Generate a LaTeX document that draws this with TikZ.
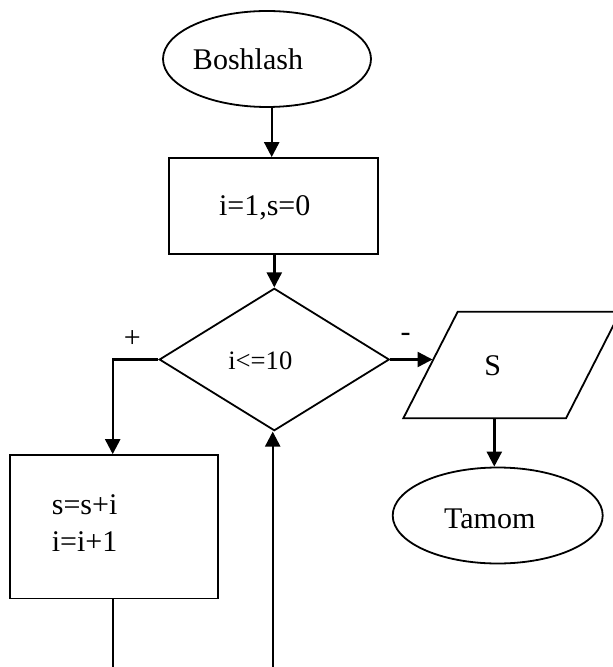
\documentclass[tikz,border=0pt]{standalone}
\usepackage{fontspec}
\setmainfont{Liberation Serif}
\usetikzlibrary{shapes.geometric,arrows.meta}
\begin{document}
\begin{tikzpicture}[x=0.5pt,y=-0.5pt,
  shapeline/.style={draw=black, line width=0.9pt},
  conn/.style={line width=1.2pt},
  arr/.style={conn, -{Triangle[length=7.5pt,width=7.5pt]}},
  txt/.style={font=\fontsize{15pt}{18.35pt}\selectfont, inner sep=0pt},
  smalltxt/.style={font=\fontsize{13.3pt}{16pt}\selectfont, inner sep=0pt},
  term/.style={shapeline, ellipse, inner sep=0pt, minimum width=104pt, minimum height=48pt},
  proc/.style={shapeline, rectangle, inner sep=0pt},
]
\useasboundingbox (0,0) rectangle (612,667);

% shapes
\node[term, label={[txt, xshift=-9.5pt]center:Boshlash}] (start) at (267,59) {};
\node[proc, minimum width=104.5pt, minimum height=48pt,
      label={[txt, xshift=-4.4pt, yshift=-1pt]center:{i=1,s=0}}] (init) at (273.5,206) {};
\node[shapeline, diamond, inner sep=0pt, minimum width=115pt, minimum height=71.2pt,
      label={[smalltxt, xshift=-7pt, yshift=-0.75pt]center:{i<=10}}] (cond) at (274.3,359.5) {};
\node[proc, minimum width=104.15pt, minimum height=71.75pt,
      label={[txt, align=left, anchor=west, xshift=21.15pt, yshift=1.9pt]west:{s=s+i\\i=i+1}}] (body) at (114.2,526.8) {};

\coordinate (pa) at (403.3,418.3);
\coordinate (pb) at (566,418.3);
\coordinate (pc) at (620.4,311.7);
\coordinate (pd) at (457.7,311.7);
\draw[shapeline] (pa) -- (pb) -- (pc) -- (pd) -- cycle;
\node[txt] (out) at (492.7,366) {S};
\coordinate (pin) at (432.5,359.5);
\coordinate (pout) at (494.3,418.3);

\node[term, minimum width=105pt, label={[txt, xshift=-4pt, yshift=-1.6pt]center:Tamom}] (stop) at (497.7,515.5) {};

% branch labels
\node[txt] (plus) at (132.3,339.3) {+};
\node[txt] (minus) at (405.7,337.7) {-};

% connectors
\draw[arr] ([xshift=2.35pt]start.south) -- ([xshift=2.35pt]start.south |- init.north);
\draw[arr] (cond.north |- init.south) -- (cond.north);
\coordinate (lc) at (112.7,359.5);
\draw[arr] (cond.west) -- (lc) -- (lc |- body.north);
\draw[arr] (cond.east) -- (pin);
\draw[arr] (pout) -- (pout |- stop.north);
\coordinate (bl) at (112.7,667);
\draw[conn] (bl |- body.south) -- (bl);
\coordinate (br) at (272.7,667);
\draw[arr] (br) -- (br |- cond.south);
\end{tikzpicture}
\end{document}
